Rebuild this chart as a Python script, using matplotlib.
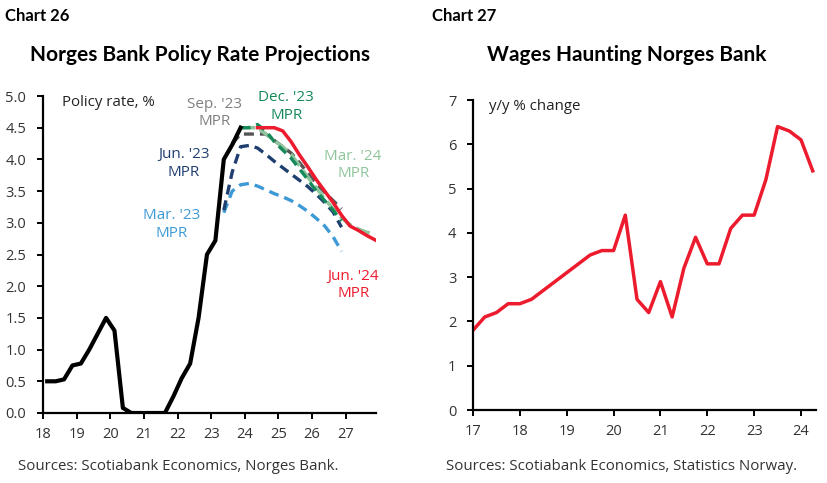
import numpy as np
import matplotlib.pyplot as plt

plt.rcParams['font.family'] = ['Open Sans', 'DejaVu Sans']

# ---- Chart 26 data (quarterly, plotted mid-quarter) ----
hist_x = np.arange(18.125, 24.0, 0.25)
hist = [0.5, 0.5, 0.53, 0.75, 0.78, 1.0, 1.25, 1.5, 1.3, 0.08, 0.0, 0.0,
        0.0, 0.0, 0.0, 0.26, 0.55, 0.78, 1.5, 2.5, 2.72, 4.0, 4.23, 4.5]

mar23_x = np.arange(23.375, 27.0, 0.25)
mar23 = [3.16, 3.5, 3.6, 3.62, 3.58, 3.52, 3.46, 3.41, 3.35, 3.27, 3.18,
         3.07, 2.95, 2.78, 2.55]
jun23_x = np.arange(23.375, 27.0, 0.25)
jun23 = [3.2, 3.8, 4.2, 4.22, 4.18, 4.08, 3.97, 3.87, 3.77, 3.67, 3.57,
         3.45, 3.32, 3.17, 2.93]
sep23_x = np.arange(23.625, 27.0, 0.25)
sep23 = [4.25, 4.4, 4.4, 4.4, 4.4, 4.3, 4.2, 4.1, 3.95, 3.78, 3.62, 3.48,
         3.35, 3.22]
dec23_x = np.arange(23.875, 27.0, 0.25)
dec23 = [4.5, 4.5, 4.55, 4.45, 4.28, 4.15, 4.02, 3.85, 3.68, 3.5, 3.35,
         3.2, 3.03]
mar24_x = np.arange(23.875, 28.0, 0.25)
mar24 = [4.5, 4.5, 4.5, 4.4, 4.3, 4.2, 4.08, 3.9, 3.72, 3.55, 3.38, 3.22,
         3.08, 2.97, 2.9, 2.85, 2.82]
jun24_x = np.arange(24.375, 28.0, 0.25)
jun24 = [4.5, 4.5, 4.5, 4.45, 4.28, 4.07, 3.88, 3.68, 3.5, 3.32, 3.12,
         2.95, 2.88, 2.8, 2.73]

# ---- Chart 27 data (quarterly) ----
wage_x = np.arange(17.0, 24.3, 0.25)
wages = [1.8, 2.1, 2.2, 2.4, 2.4, 2.5, 2.7, 2.9, 3.1, 3.3, 3.5, 3.6, 3.6,
         4.4, 2.5, 2.2, 2.9, 2.1, 3.2, 3.9, 3.3, 3.3, 4.1, 4.4, 4.4, 5.2,
         6.4, 6.3, 6.1, 5.4]

c_mar23 = '#3d9ad6'
c_jun23 = '#1f3f70'
c_sep23 = '#555555'
c_dec23 = '#16895a'
c_mar24 = '#8fc59c'
c_red = '#ec1c2e'
tick_c = '#333333'
head = ['Lato', 'DejaVu Sans']

fig = plt.figure(figsize=(8.28, 4.83), dpi=100)
W, H = 828, 483


def style(ax):
    for s in ['top', 'right']:
        ax.spines[s].set_visible(False)
    for s in ['left', 'bottom']:
        ax.spines[s].set_linewidth(1.6)
        ax.spines[s].set_color('black')
    ax.tick_params(axis='both', colors='black', labelcolor=tick_c,
                   labelsize=10.5, length=4, width=1.4, direction='out')
    ax.tick_params(axis='y', pad=8)
    ax.tick_params(axis='x', pad=6)


# ---- left chart ----
ax1 = fig.add_axes([43 / W, 1 - 413 / H, 333 / W, 317 / H])
style(ax1)
dash = (3, 1.8)
ax1.plot(hist_x, hist, color='black', lw=3.0, zorder=6, solid_joinstyle='round')
ax1.plot(mar23_x, mar23, color=c_mar23, lw=2.4, dashes=dash, zorder=2)
ax1.plot(jun23_x, jun23, color=c_jun23, lw=2.4, dashes=dash, zorder=3)
ax1.plot(sep23_x, sep23, color=c_sep23, lw=2.4, dashes=dash, zorder=3)
ax1.plot(mar24_x, mar24, color=c_mar24, lw=2.6, dashes=(4, 1.5), zorder=4)
ax1.plot(dec23_x, dec23, color=c_dec23, lw=2.4, dashes=dash, zorder=5)
ax1.plot(jun24_x, jun24, color=c_red, lw=2.5, zorder=7)
ax1.set_xlim(18, 27.9)
ax1.set_ylim(0, 5)
ax1.set_xticks(range(18, 28))
ax1.set_xticklabels([str(v) for v in range(18, 28)])
ax1.set_yticks(np.arange(0, 5.01, 0.5))
ax1.set_yticklabels(['%.1f' % v for v in np.arange(0, 5.01, 0.5)])

ax1.text(18.55, 4.9, 'Policy rate, %', fontsize=10.8, color='#222222',
         ha='left', va='center')
lab = dict(fontsize=11, ha='center', va='center', linespacing=1.25)
ax1.text(23.1, 4.73, "Sep. '23\nMPR", color='#808080', **lab)
ax1.text(25.23, 4.84, "Dec. '23\nMPR", color=c_dec23, **lab)
ax1.text(22.18, 3.94, "Jun. '23\nMPR", color=c_jun23, **lab)
ax1.text(21.82, 2.97, "Mar. '23\nMPR", color=c_mar23, **lab)
ax1.text(27.22, 3.91, "Mar. '24\nMPR", color=c_mar24, **lab)
ax1.text(27.22, 2.02, "Jun. '24\nMPR", color=c_red, **lab)

# ---- right chart ----
ax2 = fig.add_axes([473 / W, 1 - 410 / H, 343 / W, 310 / H])
style(ax2)
ax2.plot(wage_x, wages, color=c_red, lw=2.5)
ax2.set_xlim(17, 24.32)
ax2.set_ylim(0, 7)
ax2.set_xticks(range(17, 25))
ax2.set_yticks(range(0, 8))
ax2.text(17.35, 6.85, 'y/y % change', fontsize=10.8, color='#222222',
         ha='left', va='center')

# ---- titles and sources ----
fig.text(5 / W, 1 - 16 / H, 'Chart 26', fontsize=12, fontweight='bold',
         ha='left', va='center', family=head)
fig.text(432 / W, 1 - 16 / H, 'Chart 27', fontsize=12, fontweight='bold',
         ha='left', va='center', family=head)
fig.text(200 / W, 1 - 55 / H, 'Norges Bank Policy Rate Projections',
         fontsize=15, fontweight='bold', ha='center', va='center', family=head)
fig.text(627 / W, 1 - 55 / H, 'Wages Haunting Norges Bank',
         fontsize=15, fontweight='bold', ha='center', va='center', family=head)
fig.text(18 / W, 1 - 466 / H, 'Sources: Scotiabank Economics, Norges Bank.',
         fontsize=10.8, color='#333333', ha='left', va='center')
fig.text(446 / W, 1 - 466 / H, 'Sources: Scotiabank Economics, Statistics Norway.',
         fontsize=10.8, color='#333333', ha='left', va='center')

fig.savefig('out.png', dpi=100)
